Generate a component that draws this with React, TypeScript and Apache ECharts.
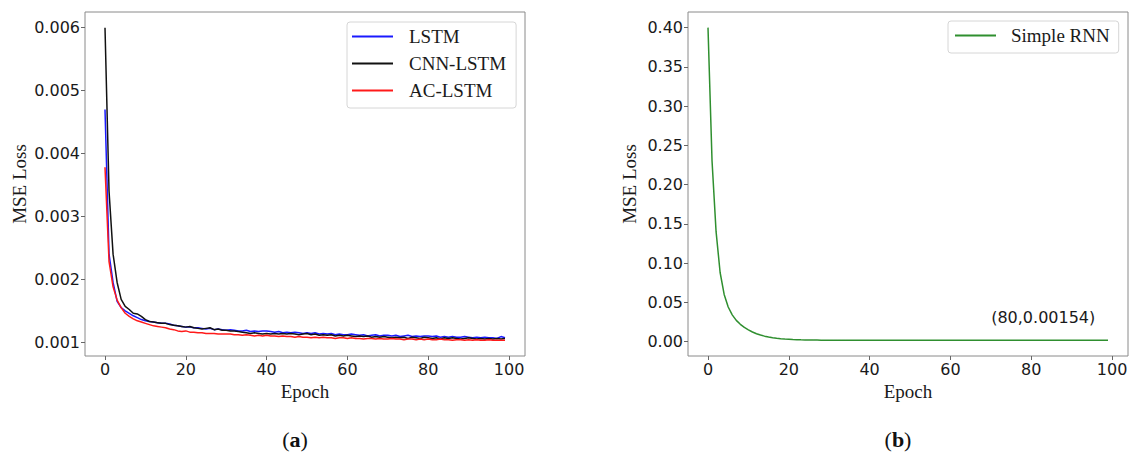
import React, { useEffect, useRef } from "react";
import * as echarts from "echarts";

// Training loss per epoch (epochs 0..99)
const lstmLoss = [
  0.0047, 0.0024, 0.00195, 0.00165, 0.00155, 0.0015, 0.00146, 0.00142, 0.00139, 0.00136,
  0.00134, 0.00133, 0.00132, 0.00131, 0.0013, 0.0013, 0.00129, 0.00127, 0.00126, 0.00125,
  0.00124, 0.00124, 0.00123, 0.00123, 0.00122, 0.00121, 0.00122, 0.0012, 0.00121, 0.0012,
  0.00119, 0.0012, 0.00119, 0.00118, 0.00118, 0.00119, 0.00117, 0.00118, 0.00117, 0.00118,
  0.00118, 0.00117, 0.00116, 0.00117, 0.00115, 0.00116, 0.00115, 0.00116, 0.00115, 0.00114,
  0.00115, 0.00114, 0.00115, 0.00113, 0.00114, 0.00113, 0.00114, 0.00112, 0.00113, 0.00112,
  0.00112, 0.00113, 0.00112, 0.00111, 0.00112, 0.0011, 0.00111, 0.00112, 0.0011, 0.00111,
  0.00111, 0.0011, 0.00111, 0.00109, 0.0011, 0.00111, 0.00109, 0.0011, 0.00109, 0.0011,
  0.0011, 0.00109, 0.0011, 0.00108, 0.00109, 0.00108, 0.00109, 0.00108, 0.00108, 0.00109,
  0.00108, 0.00107, 0.00108, 0.00107, 0.00108, 0.00107, 0.00107, 0.00106, 0.00109, 0.00107,
];

const cnnLstmLoss = [
  0.006, 0.0034, 0.0024, 0.00195, 0.00168, 0.00157, 0.00152, 0.00146, 0.00145, 0.00141,
  0.00136, 0.00133, 0.00132, 0.00131, 0.0013, 0.0013, 0.00128, 0.00127, 0.00126, 0.00125,
  0.00124, 0.00125, 0.00123, 0.00122, 0.00121, 0.00122, 0.00123, 0.0012, 0.00121, 0.00119,
  0.00119, 0.00118, 0.00118, 0.00117, 0.00116, 0.00115, 0.00114, 0.00115, 0.00114, 0.00113,
  0.00114, 0.00113, 0.00114, 0.00113, 0.00114, 0.00113, 0.00114, 0.00113, 0.00112, 0.00113,
  0.00114, 0.00112, 0.00113, 0.00111, 0.00112, 0.00111, 0.00112, 0.0011, 0.00111, 0.0011,
  0.00111, 0.0011, 0.00109, 0.0011, 0.00109, 0.0011, 0.00108, 0.00109, 0.00108, 0.00109,
  0.00108, 0.00107, 0.00108, 0.00107, 0.00108, 0.00106, 0.00108, 0.00107, 0.00106, 0.00108,
  0.00107, 0.00106, 0.00107, 0.00105, 0.00107, 0.00106, 0.00107, 0.00106, 0.00105, 0.00106,
  0.00107, 0.00106, 0.00105, 0.00106, 0.00105, 0.00106, 0.00105, 0.00106, 0.00105, 0.00106,
];

const acLstmLoss = [
  0.00378, 0.00228, 0.00188, 0.00167, 0.00155, 0.00146, 0.00141, 0.00137, 0.00134, 0.00132,
  0.0013, 0.00128, 0.00126, 0.00125, 0.00124, 0.00123, 0.00121, 0.0012, 0.00118, 0.00117,
  0.00118, 0.00116, 0.00116, 0.00115, 0.00115, 0.00114, 0.00114, 0.00114, 0.00113, 0.00113,
  0.00113, 0.00113, 0.00112, 0.00112, 0.00111, 0.00112, 0.00111, 0.0011, 0.00111, 0.0011,
  0.00111, 0.0011, 0.0011, 0.00109, 0.0011, 0.00109, 0.00109, 0.00108, 0.00109, 0.00108,
  0.00108, 0.00107, 0.00108, 0.00107, 0.00108, 0.00107, 0.00107, 0.00106, 0.00107, 0.00107,
  0.00106, 0.00107, 0.00106, 0.00106, 0.00105, 0.00106, 0.00106, 0.00105, 0.00106, 0.00105,
  0.00105, 0.00106, 0.00105, 0.00105, 0.00104, 0.00105, 0.00105, 0.00104, 0.00105, 0.00104,
  0.00105, 0.00104, 0.00104, 0.00105, 0.00104, 0.00104, 0.00103, 0.00104, 0.00104, 0.00103,
  0.00104, 0.00103, 0.00104, 0.00103, 0.00103, 0.00104, 0.00103, 0.00103, 0.00103, 0.00103,
];

const simpleRnnLoss = [
  0.4, 0.23, 0.14, 0.088, 0.06, 0.044, 0.034, 0.027, 0.022, 0.018,
  0.015, 0.0122, 0.01, 0.0083, 0.0069, 0.0058, 0.0049, 0.0042, 0.0036, 0.0032,
  0.0029, 0.0026, 0.0024, 0.0022, 0.0021, 0.002, 0.00192, 0.00186, 0.00181, 0.00177,
  0.00174, 0.00171, 0.00169, 0.00167, 0.00166, 0.00165, 0.00164, 0.00163, 0.00162, 0.00162,
  0.00161, 0.00161, 0.0016, 0.0016, 0.0016, 0.00159, 0.00159, 0.00159, 0.00158, 0.00158,
  0.00158, 0.00158, 0.00157, 0.00157, 0.00157, 0.00157, 0.00157, 0.00156, 0.00156, 0.00156,
  0.00156, 0.00156, 0.00156, 0.00155, 0.00155, 0.00155, 0.00155, 0.00155, 0.00155, 0.00155,
  0.00155, 0.00155, 0.00154, 0.00154, 0.00154, 0.00154, 0.00154, 0.00154, 0.00154, 0.00154,
  0.00154, 0.00154, 0.00154, 0.00154, 0.00154, 0.00154, 0.00154, 0.00154, 0.00154, 0.00154,
  0.00153, 0.00153, 0.00153, 0.00153, 0.00153, 0.00153, 0.00153, 0.00153, 0.00153, 0.00153,
];

const epochTicks = [0, 20, 40, 60, 80, 100];
const lossTicksA = [0.001, 0.002, 0.003, 0.004, 0.005, 0.006];
const lossTicksB = [0, 0.05, 0.1, 0.15, 0.2, 0.25, 0.3, 0.35, 0.4];
const annotatedEpoch = 80;
const annotatedLoss = 0.00154;

const seriesNamesA = ["LSTM", "CNN-LSTM", "AC-LSTM"];
const seriesNameB = "Simple RNN";

const SERIF = "'Liberation Serif', 'Times New Roman', serif";
const SANS = "'DejaVu Sans', sans-serif";
const FRAME = "#8a8a8a";
const INK = "#1a1a1a";

const toPoints = (values: number[]) => values.map((v, i) => [i, v]);

function xAxisFor(gridIndex: number) {
  return {
    type: "value",
    gridIndex,
    min: -4.95,
    max: 103.95,
    name: "Epoch",
    nameLocation: "middle",
    nameGap: 18,
    nameTextStyle: { fontFamily: SERIF, fontSize: 19, color: INK },
    axisLine: { show: false, onZero: false },
    axisTick: { show: true, length: 4, inside: false, customValues: epochTicks, lineStyle: { color: "#666" } },
    axisLabel: { customValues: epochTicks, margin: 5, fontFamily: SANS, fontSize: 16, color: INK },
    splitLine: { show: false },
  };
}

function yAxisFor(gridIndex: number, min: number, max: number, ticks: number[], digits: number, gap: number) {
  return {
    type: "value",
    gridIndex,
    min,
    max,
    name: "MSE Loss",
    nameLocation: "middle",
    nameRotate: 90,
    nameGap: gap,
    nameTextStyle: { fontFamily: SERIF, fontSize: 19, color: INK },
    axisLine: { show: false, onZero: false },
    axisTick: { show: true, length: 4, inside: false, customValues: ticks, lineStyle: { color: "#666" } },
    axisLabel: {
      customValues: ticks,
      margin: 5,
      fontFamily: SANS,
      fontSize: 16,
      color: INK,
      formatter: (v: number) => v.toFixed(digits),
    },
    splitLine: { show: false },
  };
}

const legendBase = {
  orient: "vertical",
  icon: "rect",
  itemWidth: 41,
  itemHeight: 2,
  itemGap: 8,
  borderColor: "#d6d6d6",
  borderWidth: 1,
  borderRadius: 3,
  backgroundColor: "#fff",
  selectedMode: false,
};

const panelTag = (letter: string, x: number) => ({
  type: "text",
  x,
  y: 439,
  style: {
    text: `{p|(}{b|${letter}}{p|)}`,
    align: "center",
    verticalAlign: "middle",
    rich: {
      p: { fontFamily: SERIF, fontSize: 22, fill: "#111" },
      b: { fontFamily: SERIF, fontSize: 22, fontWeight: "bold", fill: "#111" },
    },
  },
});

export default function App() {
  const ref = useRef<HTMLDivElement>(null);

  useEffect(() => {
    if (!ref.current) return;
    const chart = echarts.init(ref.current, undefined, { renderer: "svg" });

    const lineStyle = (color: string) => ({ color, width: 1.5 });

    chart.setOption({
      animation: false,
      backgroundColor: "#fff",
      grid: [
        { left: 85, top: 12, width: 440, height: 344, show: true, borderColor: FRAME, borderWidth: 1, backgroundColor: "transparent" },
        { left: 688, top: 12, width: 440, height: 344, show: true, borderColor: FRAME, borderWidth: 1, backgroundColor: "transparent" },
      ],
      xAxis: [xAxisFor(0), xAxisFor(1)],
      yAxis: [
        yAxisFor(0, 0.000781, 0.006249, lossTicksA, 3, 56),
        yAxisFor(1, -0.0184, 0.4199, lossTicksB, 2, 49),
      ],
      legend: [
        {
          ...legendBase,
          left: 347,
          top: 22,
          padding: [5, 10, 8, 5],
          data: seriesNamesA,
          textStyle: { fontFamily: SERIF, fontSize: 19, lineHeight: 19, color: INK, padding: [0, 0, 0, 11] },
        },
        {
          ...legendBase,
          left: 948,
          top: 21,
          padding: [5, 9, 8, 7],
          data: [seriesNameB],
          textStyle: { fontFamily: SERIF, fontSize: 19, lineHeight: 19, color: INK, padding: [0, 0, 0, 10] },
        },
      ],
      series: [
        {
          name: "LSTM",
          type: "line",
          xAxisIndex: 0,
          yAxisIndex: 0,
          data: toPoints(lstmLoss),
          symbol: "none",
          lineStyle: lineStyle("#1a1aff"),
          itemStyle: { color: "#1a1aff" },
        },
        {
          name: "CNN-LSTM",
          type: "line",
          xAxisIndex: 0,
          yAxisIndex: 0,
          data: toPoints(cnnLstmLoss),
          symbol: "none",
          lineStyle: lineStyle("#111111"),
          itemStyle: { color: "#111111" },
        },
        {
          name: "AC-LSTM",
          type: "line",
          xAxisIndex: 0,
          yAxisIndex: 0,
          data: toPoints(acLstmLoss),
          symbol: "none",
          lineStyle: lineStyle("#ff1a1a"),
          itemStyle: { color: "#ff1a1a" },
        },
        {
          name: seriesNameB,
          type: "line",
          xAxisIndex: 1,
          yAxisIndex: 1,
          data: toPoints(simpleRnnLoss),
          symbol: "none",
          lineStyle: lineStyle("#2f8f2f"),
          itemStyle: { color: "#2f8f2f" },
          markPoint: {
            symbol: "circle",
            symbolSize: 1,
            itemStyle: { color: "rgba(0,0,0,0)" },
            label: {
              show: true,
              position: "inside",
              offset: [12, -23],
              formatter: `(${annotatedEpoch},${annotatedLoss})`,
              fontFamily: SANS,
              fontSize: 16,
              color: INK,
            },
            data: [{ coord: [annotatedEpoch, annotatedLoss] }],
          },
        },
      ],
      graphic: [panelTag("a", 295), panelTag("b", 898)],
    });

    return () => chart.dispose();
  }, []);

  return (
    <div
      ref={ref}
      style={{ position: "absolute", left: 0, top: 0, width: 1132, height: 455, background: "#fff" }}
    />
  );
}
